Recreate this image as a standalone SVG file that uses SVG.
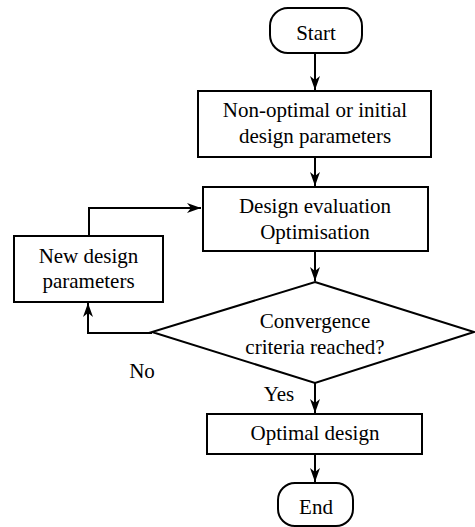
<svg xmlns="http://www.w3.org/2000/svg" width="475" height="527" viewBox="0 0 475 527">
<style>
.s{fill:#fff;stroke:#000;stroke-width:2}
.c{fill:none;stroke:#000;stroke-width:2}
.t{font-family:'Liberation Serif','Times New Roman','DejaVu Serif',serif;font-size:21px;fill:#000;text-anchor:middle}
</style>
<defs>
<marker id="ah" viewBox="0 0 14 10" refX="14" refY="5" markerWidth="14" markerHeight="10" markerUnits="userSpaceOnUse" orient="auto">
<path d="M0,0 L14,5 L0,10 L4,5 Z" fill="#000"/>
</marker>
</defs>
<g id="connectors">
<path class="c" d="M315,53 V90" marker-end="url(#ah)"/>
<path class="c" d="M315,157 V186" marker-end="url(#ah)"/>
<path class="c" d="M315,251 V281" marker-end="url(#ah)"/>
<path class="c" d="M315,383 V413" marker-end="url(#ah)"/>
<path class="c" d="M315,454 V482" marker-end="url(#ah)"/>
<path class="c" d="M152,333 H88 V303" marker-end="url(#ah)"/>
<path class="c" d="M89,236 V208 H201" marker-end="url(#ah)"/>
<text class="t" x="142" y="378">No</text>
<text class="t" x="279" y="401">Yes</text>
</g>
<g id="start">
<rect class="s" x="270" y="8" width="92" height="45" rx="18"/>
<text class="t" x="316" y="40">Start</text>
</g>
<g id="initial">
<rect class="s" x="198" y="91" width="233" height="66"/>
<text class="t" x="315" y="117">Non-optimal or initial</text>
<text class="t" x="315" y="143">design parameters</text>
</g>
<g id="evaluation">
<rect class="s" x="203" y="187" width="225" height="64"/>
<text class="t" x="315" y="213">Design evaluation</text>
<text class="t" x="315" y="239">Optimisation</text>
</g>
<g id="convergence">
<polygon class="s" points="315,282 474,332 315,383 152,332"/>
<text class="t" x="315" y="328">Convergence</text>
<text class="t" x="315" y="354">criteria reached?</text>
</g>
<g id="newparams">
<rect class="s" x="14" y="236" width="149" height="66"/>
<text class="t" x="88.5" y="263">New design</text>
<text class="t" x="88.5" y="288">parameters</text>
</g>
<g id="optimal">
<rect class="s" x="207" y="414" width="215" height="40"/>
<text class="t" x="315" y="440">Optimal design</text>
</g>
<g id="end">
<rect class="s" x="278" y="483" width="75" height="43" rx="17"/>
<text class="t" x="316" y="514">End</text>
</g>
</svg>
